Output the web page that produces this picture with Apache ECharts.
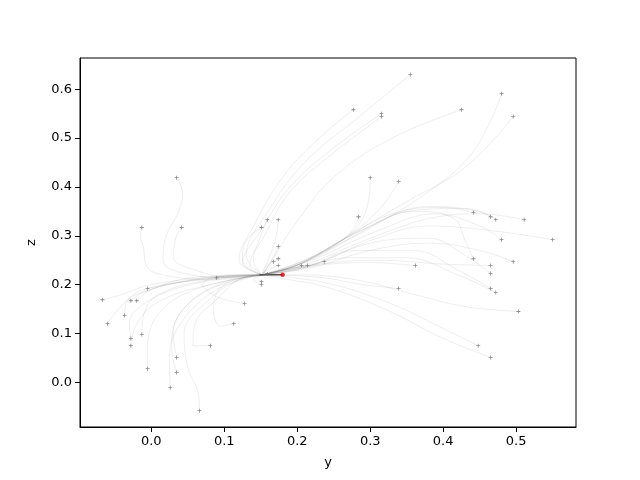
<!DOCTYPE html>
<html>
<head>
<meta charset="utf-8">
<script src="https://cdn.jsdelivr.net/npm/echarts@6/dist/echarts.min.js"></script>
<style>html,body{margin:0;padding:0;background:#fff}#chart{width:640px;height:480px}</style>
</head>
<body>
<div id="chart"></div>
<script>
// Convergence point and final segment
const C = [0.152, 0.22];
const optimum = [[0.18, 0.22]];
const finalSegment = [[0.148, 0.22], [0.18, 0.22]];

// Axis ticks
const xTicks = [0.0, 0.1, 0.2, 0.3, 0.4, 0.5];
const yTicks = [0.0, 0.1, 0.2, 0.3, 0.4, 0.5, 0.6];
const xRange = [-0.0977, 0.582];
const yRange = [-0.0915, 0.664];

// Trajectories (first point = start marker)
const topPaths = [
  [[0.355,0.630],[0.29,0.55],[0.21,0.45],[0.16,0.35],[0.13,0.26],C],
  [[0.277,0.558],[0.23,0.50],[0.18,0.42],[0.14,0.32],[0.12,0.25],C],
  [[0.3155,0.550],[0.25,0.48],[0.19,0.40],[0.15,0.31],[0.125,0.245],C],
  [[0.3155,0.544],[0.25,0.47],[0.19,0.39],[0.155,0.30],[0.135,0.24],C],
  [[0.425,0.558],[0.33,0.50],[0.25,0.42],[0.20,0.33],[0.165,0.25],C],
  [[0.480,0.591],[0.44,0.47],[0.37,0.38],[0.29,0.31],[0.21,0.245],C],
  [[0.496,0.544],[0.43,0.44],[0.35,0.37],[0.27,0.30],[0.20,0.24],C],
  [[0.300,0.419],[0.296,0.36],[0.27,0.30],[0.21,0.25],C],
  [[0.339,0.411],[0.31,0.35],[0.26,0.29],[0.20,0.24],C]
];
const rightPaths = [
  [[0.4415,0.3475],[0.40,0.358],[0.33,0.345],[0.26,0.29],[0.20,0.24],C],
  [[0.465,0.339],[0.43,0.356],[0.36,0.352],[0.28,0.305],[0.205,0.245],C],
  [[0.472,0.333],[0.45,0.35],[0.38,0.36],[0.30,0.32],[0.21,0.25],C],
  [[0.511,0.333],[0.45,0.345],[0.38,0.335],[0.30,0.295],[0.21,0.24],C],
  [[0.480,0.292],[0.45,0.32],[0.39,0.345],[0.31,0.31],[0.22,0.25],C],
  [[0.550,0.292],[0.47,0.31],[0.38,0.32],[0.30,0.29],[0.22,0.24],C],
  [[0.4415,0.253],[0.43,0.29],[0.415,0.335],[0.36,0.35],[0.28,0.30],[0.20,0.24],C],
  [[0.465,0.239],[0.40,0.242],[0.31,0.25],[0.22,0.24],C],
  [[0.496,0.247],[0.45,0.27],[0.38,0.285],[0.30,0.27],[0.22,0.235],C],
  [[0.465,0.223],[0.43,0.26],[0.38,0.295],[0.30,0.285],[0.22,0.24],C],
  [[0.465,0.192],[0.42,0.23],[0.36,0.27],[0.28,0.27],[0.21,0.235],C],
  [[0.472,0.184],[0.42,0.22],[0.35,0.255],[0.27,0.255],[0.20,0.23],C],
  [[0.503,0.145],[0.43,0.155],[0.36,0.18],[0.28,0.21],[0.20,0.22],C],
  [[0.448,0.075],[0.40,0.11],[0.33,0.16],[0.25,0.20],[0.19,0.215],C],
  [[0.465,0.051],[0.40,0.09],[0.32,0.15],[0.24,0.195],[0.19,0.21],C],
  [[0.362,0.239],[0.30,0.245],[0.23,0.24],C],
  [[0.339,0.192],[0.29,0.20],[0.23,0.215],C]
];
const centerPaths = [
  [[0.284,0.339],[0.275,0.31],[0.24,0.27],[0.19,0.235],C],
  [[0.159,0.333],[0.15,0.30],[0.14,0.25],C],
  [[0.174,0.333],[0.17,0.29],[0.16,0.25],C],
  [[0.151,0.317],[0.13,0.29],[0.125,0.25],C],
  [[0.174,0.278],[0.165,0.25],C],
  [[0.174,0.253],[0.16,0.235],C],
  [[0.1675,0.247],[0.155,0.235],C],
  [[0.174,0.239],[0.16,0.23],C],
  [[0.206,0.239],[0.18,0.23],C],
  [[0.214,0.239],[0.185,0.232],C],
  [[0.237,0.247],[0.20,0.235],C],
  [[0.159,0.222],C],
  [[0.151,0.206],[0.145,0.213],C],
  [[0.151,0.200],[0.14,0.21],C],
  [[0.0895,0.214],[0.12,0.22],C],
  [[0.128,0.161],[0.09,0.175],[0.07,0.20],[0.11,0.22],C],
  [[0.113,0.120],[0.095,0.115],[0.085,0.15],[0.10,0.20],C]
];
const leftPaths = [
  [[0.0347,0.419],[0.043,0.387],[0.038,0.352],[0.02,0.298],[0.016,0.25],[0.04,0.225],[0.10,0.215],C],
  [[-0.013,0.317],[-0.015,0.30],[-0.011,0.278],[-0.006,0.237],[0.01,0.222],[0.08,0.21],C],
  [[0.0415,0.317],[0.034,0.298],[0.03,0.257],[0.06,0.23],[0.11,0.215],C],
  [[-0.005,0.192],[0.02,0.20],[0.08,0.215],C],
  [[-0.067,0.169],[-0.04,0.18],[0.0,0.20],[0.08,0.215],C],
  [[-0.028,0.167],[-0.01,0.185],[0.04,0.205],[0.10,0.215],C],
  [[-0.020,0.167],[0.0,0.19],[0.06,0.215],C],
  [[-0.0366,0.137],[-0.035,0.16],[-0.01,0.19],[0.07,0.21],C],
  [[-0.060,0.120],[-0.045,0.15],[-0.02,0.18],[0.06,0.21],C],
  [[-0.028,0.0895],[-0.03,0.12],[0.0,0.17],[0.07,0.205],C],
  [[-0.028,0.075],[-0.02,0.12],[0.01,0.165],[0.08,0.20],C],
  [[-0.013,0.098],[-0.01,0.14],[0.01,0.18],[0.08,0.21],C]
];
const bottomPaths = [
  [[0.081,0.075],[0.057,0.075],[0.06,0.12],[0.09,0.17],[0.12,0.21],C],
  [[0.0347,0.0506],[0.03,0.10],[0.05,0.16],[0.10,0.205],C],
  [[-0.005,0.028],[-0.005,0.07],[0.01,0.14],[0.06,0.19],C],
  [[0.0347,0.020],[0.028,0.07],[0.035,0.13],[0.08,0.19],C],
  [[0.026,-0.011],[0.025,0.05],[0.04,0.12],[0.09,0.19],C],
  [[0.066,-0.058],[0.064,-0.02],[0.05,0.03],[0.045,0.10],[0.08,0.17],[0.12,0.21],C]
];

const allPaths = [].concat(topPaths, rightPaths, centerPaths, leftPaths, bottomPaths);
const starts = allPaths.map(p => p[0]);

const FONT = 'DejaVu Sans';
const plus = 'path://M0,4H10V6H0Z M4,0H6V10H4Z';

const series = allPaths.map(p => ({
  type: 'line', data: p, smooth: 0.4, showSymbol: false, silent: true,
  lineStyle: { color: 'rgba(120,120,120,0.16)', width: 0.8 }, z: 1
}));
series.push({
  type: 'line', data: finalSegment, showSymbol: false, silent: true,
  lineStyle: { color: '#555', width: 1.5 }, z: 3
});
series.push({
  type: 'scatter', data: starts, symbol: plus, symbolSize: 4, silent: true,
  itemStyle: { color: '#707070' }, z: 4
});
series.push({
  type: 'scatter', data: optimum, symbol: 'circle', symbolSize: 4.5, silent: true,
  itemStyle: { color: '#e00000' }, z: 5
});

const axisCommon = {
  axisLine: { show: true, onZero: false, lineStyle: { color: '#000', width: 1 } },
  axisTick: { show: true, length: 5, lineStyle: { color: '#000', width: 1 } },
  splitLine: { show: false },
  nameTextStyle: { fontFamily: FONT, fontSize: 13, color: '#000' }
};

const chart = echarts.init(document.getElementById('chart'), null, { renderer: 'canvas' });
chart.setOption({
  animation: false,
  backgroundColor: '#fff',
  grid: { left: 80, right: 64, top: 58, bottom: 53, show: true, borderColor: '#000', borderWidth: 1, containLabel: false },
  xAxis: Object.assign({}, axisCommon, {
    type: 'value', min: xRange[0], max: xRange[1],
    name: 'y', nameLocation: 'middle', nameGap: 29,
    axisTick: Object.assign({}, axisCommon.axisTick, { customValues: xTicks }),
    axisLabel: { customValues: xTicks, fontFamily: FONT, fontSize: 13, color: '#000', margin: 8,
      formatter: v => v.toFixed(1) }
  }),
  yAxis: Object.assign({}, axisCommon, {
    type: 'value', min: yRange[0], max: yRange[1],
    name: 'z', nameLocation: 'middle', nameGap: 42,
    axisTick: Object.assign({}, axisCommon.axisTick, { customValues: yTicks }),
    axisLabel: { customValues: yTicks, fontFamily: FONT, fontSize: 13, color: '#000', margin: 8,
      formatter: v => v.toFixed(1) }
  }),
  series: series
});
</script>
</body>
</html>
